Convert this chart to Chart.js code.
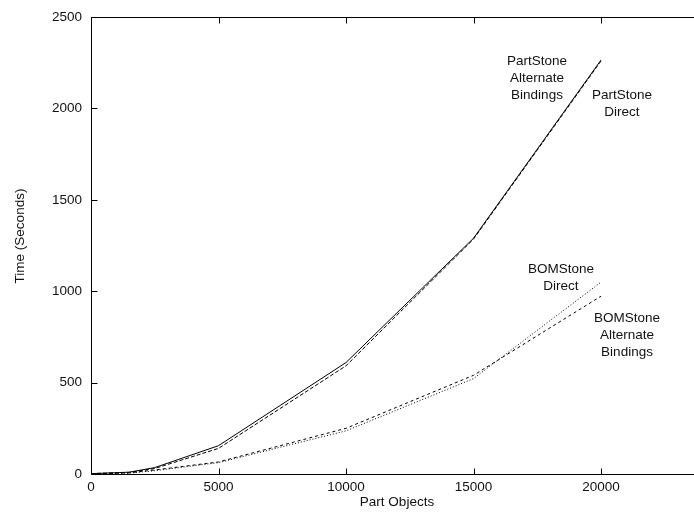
<!DOCTYPE html>
<html>
<head>
<meta charset="utf-8">
<script src="https://cdn.jsdelivr.net/npm/chart.js@4.4.1/dist/chart.umd.min.js"></script>
<style>
  html, body { margin: 0; padding: 0; background: #fff; overflow: hidden; }
  #wrap { width: 694px; height: 514px; overflow: hidden; }
</style>
</head>
<body>
<div id="wrap"><canvas id="timing" width="720" height="514"></canvas></div>
<script>
// Part objects (x axis)
const partObjects = [0, 1500, 2500, 5000, 10000, 15000, 20000];

// Time in seconds
const partStoneDirect = [2, 10, 35, 155, 610, 1290, 2265];
const partStoneAlternate = [2, 9, 30, 140, 592, 1285, 2260];
const bomStoneDirect = [1, 5, 18, 62, 236, 522, 1050];
const bomStoneAlternate = [1, 6, 22, 66, 250, 540, 973];

const xTicks = [0, 5000, 10000, 15000, 20000];
const yTicks = [0, 500, 1000, 1500, 2000, 2500];

const seriesLabels = ['PartStone Direct', 'PartStone Alternate Bindings', 'BOMStone Direct', 'BOMStone Alternate Bindings'];

// labels written next to the curves
const noteLines = [
    ['PartStone', 'Alternate', 'Bindings'],
    ['PartStone', 'Direct'],
    ['BOMStone', 'Direct'],
    ['BOMStone', 'Alternate', 'Bindings']
];
const noteX = [17490, 20820, 18430, 21020];
const noteY = [2258, 2073, 1122, 851];

const FONT = '"Liberation Sans", Arial, Helvetica, sans-serif';

function lineSet(label, data, dash) {
    return {
        label: label,
        data: data,
        borderColor: '#000',
        borderWidth: 1,
        borderDash: dash,
        pointRadius: 0,
        fill: false,
        tension: 0
    };
}

// box, inward ticks, curve notes and y title
const framePlugin = {
    id: 'frame',
    afterDraw(chart) {
        const { ctx, chartArea: a, scales: { x, y } } = chart;
        const L = Math.round(a.left) + 0.5, R = Math.round(a.right) + 0.5;
        const T = Math.round(a.top) + 0.5, B = Math.round(a.bottom) + 0.5;
        ctx.save();
        ctx.strokeStyle = '#000';
        ctx.lineWidth = 1;
        ctx.strokeRect(L, T, R - L, B - T);

        ctx.beginPath();
        y.ticks.forEach(t => {
            const py = Math.round(y.getPixelForValue(t.value)) + 0.5;
            ctx.moveTo(L, py); ctx.lineTo(L + 6, py);
            ctx.moveTo(R, py); ctx.lineTo(R - 6, py);
        });
        x.ticks.forEach(t => {
            const px = Math.round(x.getPixelForValue(t.value)) + 0.5;
            ctx.moveTo(px, B); ctx.lineTo(px, B - 6);
            ctx.moveTo(px, T); ctx.lineTo(px, T + 6);
        });
        ctx.stroke();

        ctx.font = '13.5px ' + FONT;
        ctx.fillStyle = '#111';
        ctx.textAlign = 'center';
        ctx.textBaseline = 'middle';
        noteLines.forEach((lines, i) => {
            const px = x.getPixelForValue(noteX[i]);
            const py = y.getPixelForValue(noteY[i]);
            lines.forEach((s, j) => ctx.fillText(s, px, py + j * 17));
        });

        ctx.translate(20, 236);
        ctx.rotate(-Math.PI / 2);
        ctx.fillText('Time (Seconds)', 0, 0);
        ctx.restore();
    }
};

new Chart(document.getElementById('timing'), {
    type: 'line',
    data: {
        datasets: [
            lineSet(seriesLabels[0], partObjects.map((v, i) => ({ x: v, y: partStoneDirect[i] })), []),
            lineSet(seriesLabels[1], partObjects.map((v, i) => ({ x: v, y: partStoneAlternate[i] })), [4, 2]),
            lineSet(seriesLabels[2], partObjects.map((v, i) => ({ x: v, y: bomStoneDirect[i] })), [1, 2]),
            lineSet(seriesLabels[3], partObjects.map((v, i) => ({ x: v, y: bomStoneAlternate[i] })), [3, 3])
        ]
    },
    options: {
        responsive: false,
        animation: false,
        devicePixelRatio: 1,
        layout: { padding: { top: 13, right: 17, left: 0, bottom: 0 } },
        plugins: {
            legend: { display: false },
            tooltip: { enabled: false }
        },
        scales: {
            x: {
                type: 'linear',
                min: 0,
                max: 24000,
                grid: { display: false, drawTicks: false },
                border: { display: false },
                afterBuildTicks: scale => { scale.ticks = xTicks.map(v => ({ value: v })); },
                afterFit: scale => { scale.height = 40; },
                ticks: {
                    color: '#111',
                    padding: 5,
                    maxRotation: 0,
                    font: { family: FONT, size: 13.5 },
                    callback: v => String(v)
                },
                title: {
                    display: true,
                    text: 'Part Objects',
                    color: '#111',
                    padding: { top: 0, bottom: 4 },
                    font: { family: FONT, size: 13.5 }
                }
            },
            y: {
                type: 'linear',
                min: 0,
                max: 2500,
                grid: { display: false, drawTicks: false },
                border: { display: false },
                afterBuildTicks: scale => { scale.ticks = yTicks.map(v => ({ value: v })); },
                afterFit: scale => { scale.width = 91; },
                ticks: {
                    color: '#111',
                    padding: 9,
                    font: { family: FONT, size: 13.5 },
                    callback: v => String(v)
                }
            }
        }
    },
    plugins: [framePlugin]
});
</script>
</body>
</html>
